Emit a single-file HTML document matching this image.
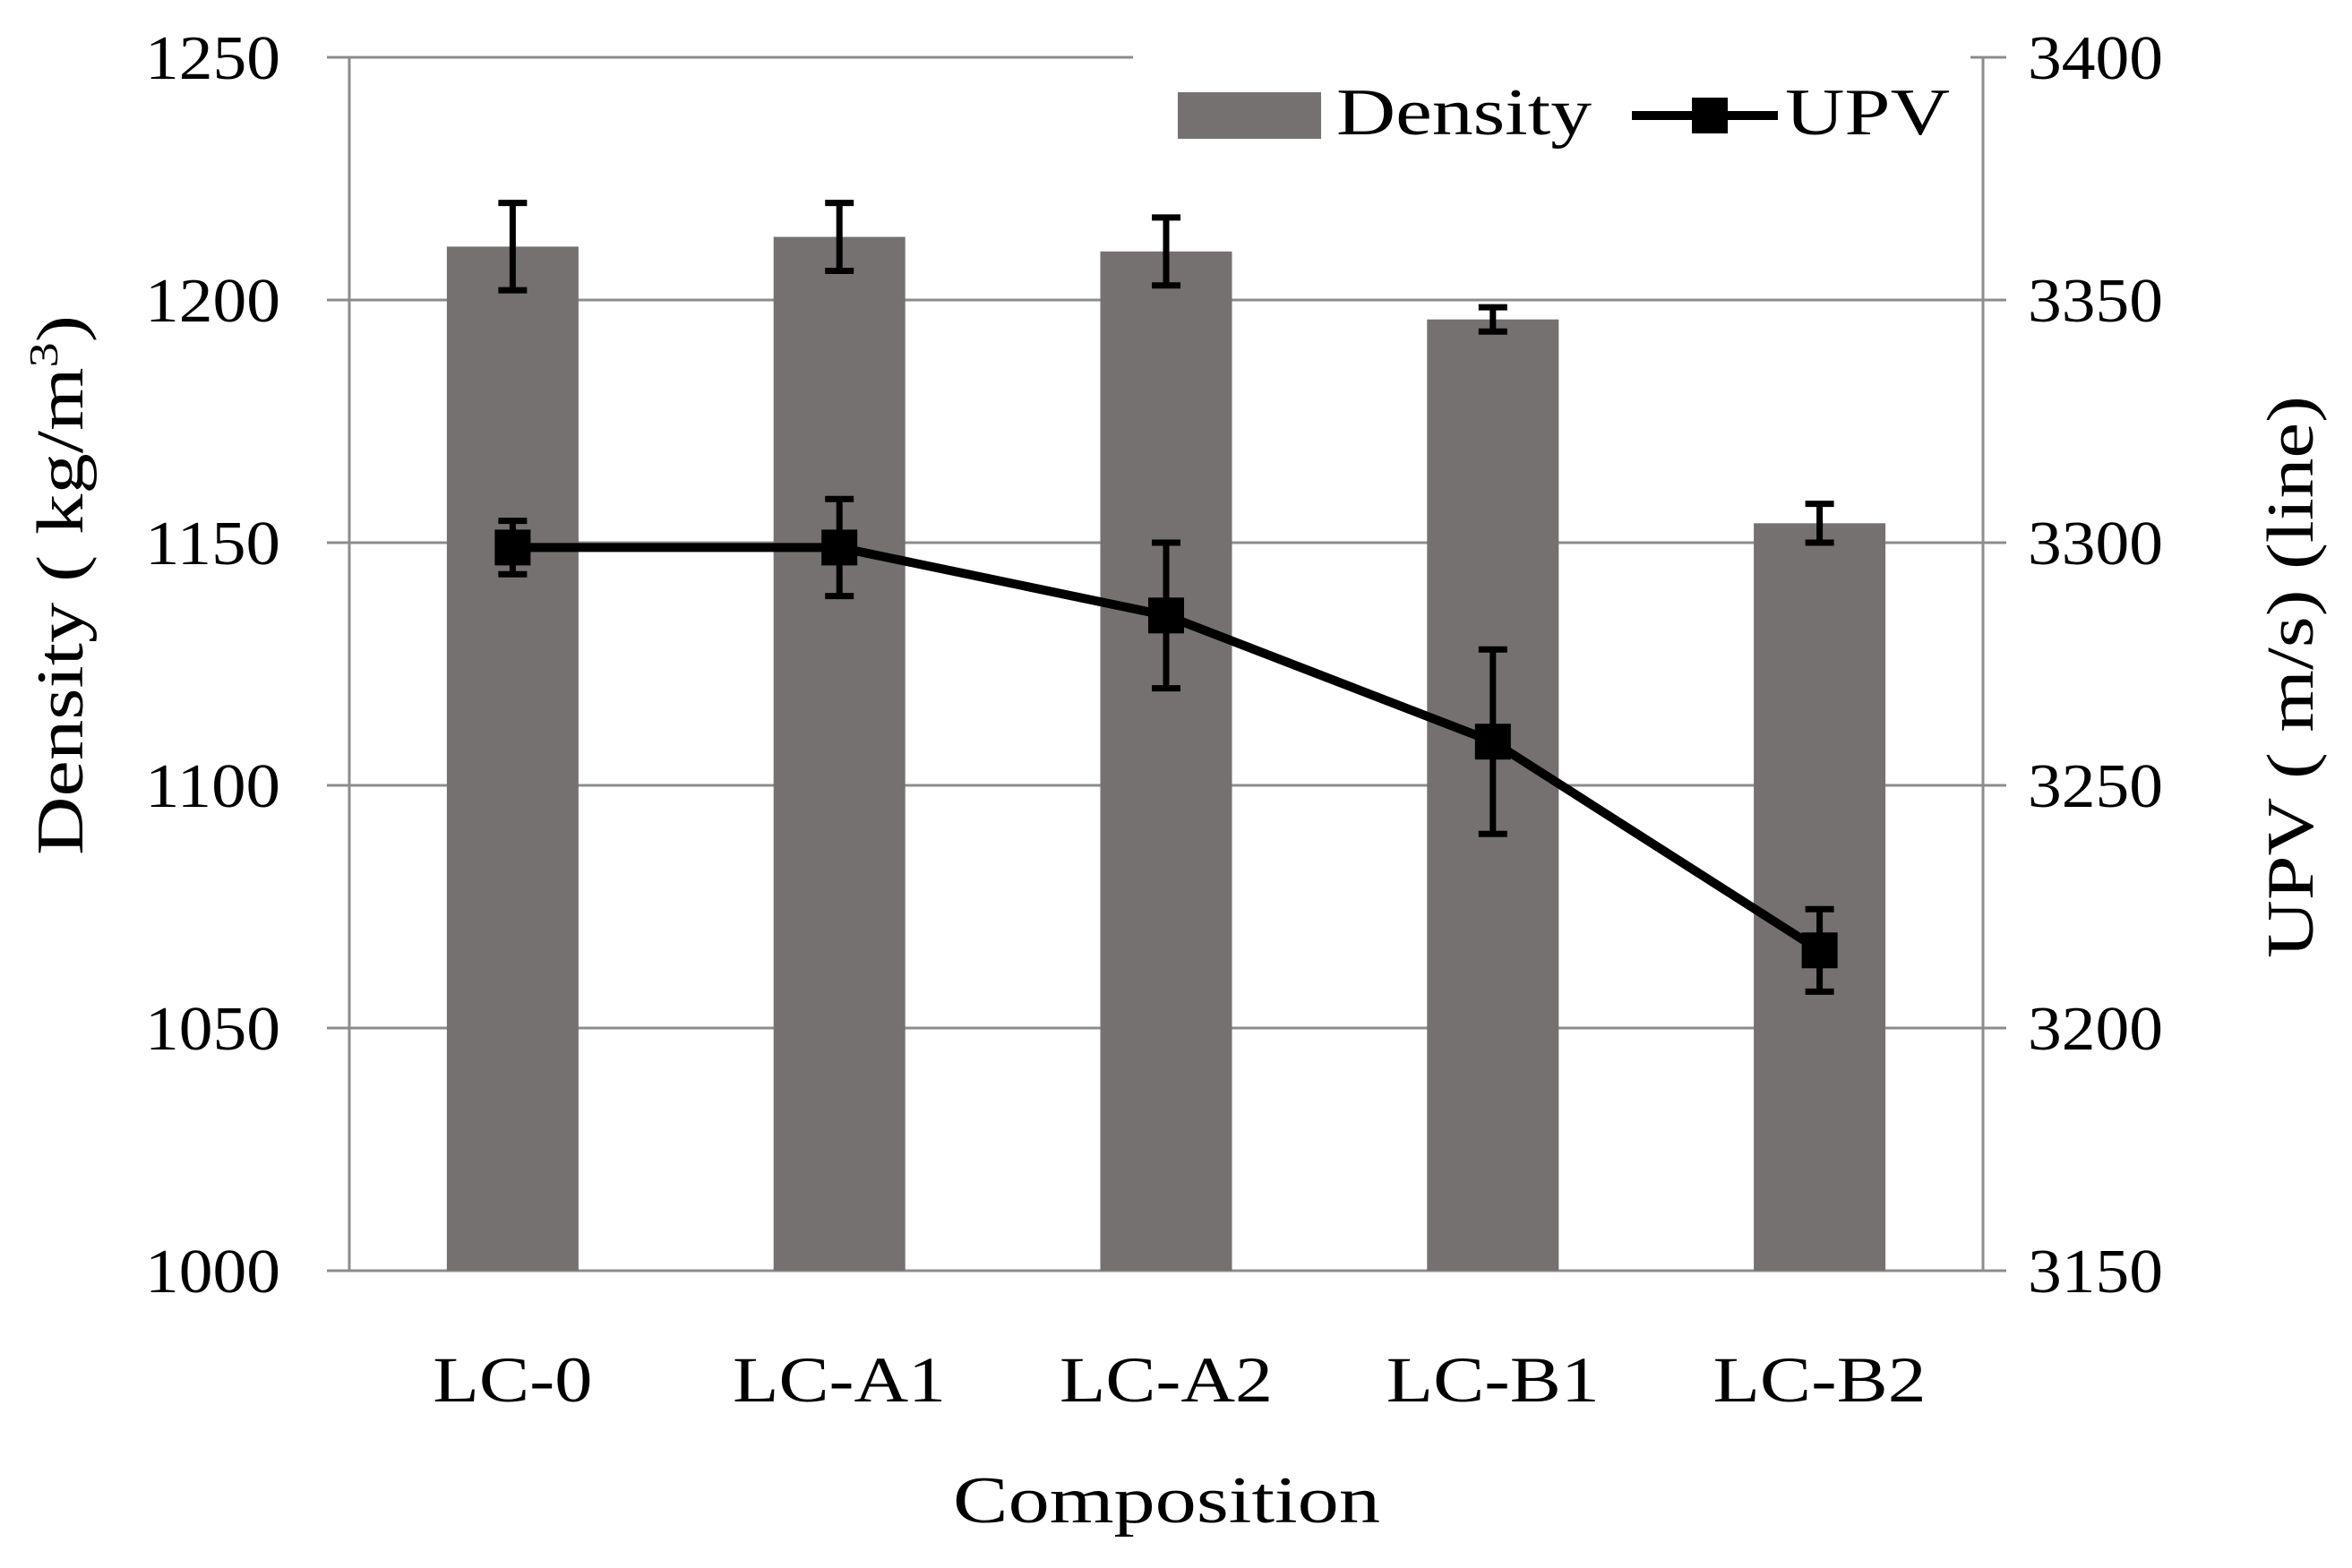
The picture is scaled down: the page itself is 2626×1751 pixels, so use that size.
<!DOCTYPE html>
<html><head><meta charset="utf-8"><style>
html,body{margin:0;padding:0;background:#fff;}
body{position:relative;}
svg{display:block;font-family:"Liberation Serif",serif;}
</style></head><body>
<svg id="chart" width="2626" height="1751" viewBox="0 0 2626 1751" xmlns="http://www.w3.org/2000/svg"></svg>
<script>
const categories = ["LC-0","LC-A1","LC-A2","LC-B1","LC-B2"];
const density = [1211,1213,1210,1196,1154];
const densityErr = [9,7,7,2.5,4];
const upv = [3299,3299,3285,3259,3216];
const upvErr = [5.5,10,15,19,8.5];
const leftTicks = [1000,1050,1100,1150,1200,1250];
const rightTicks = [3150,3200,3250,3300,3350,3400];

const NS="http://www.w3.org/2000/svg";
const svg=document.getElementById('chart');
const L=390,R=2214,T=64,B=1419;
const yL=v=>B-(v-1000)/250*(B-T);
const yR=v=>B-(v-3150)/250*(B-T);
const band=(R-L)/categories.length;
const xC=i=>L+band*(i+0.5);
function mk(tag,attrs,parent){const e=document.createElementNS(NS,tag);for(const k in attrs)e.setAttribute(k,attrs[k]);(parent||svg).appendChild(e);return e;}

const grid=mk('g',{});


leftTicks.forEach(t=>{
  const l=mk('line',{x1:365,x2:2240,y1:yL(t),y2:yL(t),stroke:'#8c8c8c','stroke-width':3},grid);
  
  
});
const ax=mk('g',{});


mk('line',{x1:L,x2:L,y1:T,y2:B,stroke:'#8c8c8c','stroke-width':3},ax);
mk('line',{x1:R,x2:R,y1:T,y2:B,stroke:'#8c8c8c','stroke-width':3},ax);

leftTicks.forEach(t=>{
  const e=mk('text',{x:313,y:yL(t)+24,'text-anchor':'end','font-size':70,fill:'#000',textLength:151,lengthAdjust:'spacingAndGlyphs'});
  e.textContent=t;
  
  
});
rightTicks.forEach(t=>{
  const e=mk('text',{x:2264,y:yR(t)+24,'text-anchor':'start','font-size':70,fill:'#000',textLength:151,lengthAdjust:'spacingAndGlyphs'});
  e.textContent=t;
  
  
});

categories.forEach((c,i)=>{
  const bw=147;
  const b=mk('rect',{x:xC(i)-bw/2,y:yL(density[i]),width:bw,height:B-yL(density[i]),fill:'#767171'});
  
  
});
function errbar(x,y1,y2,name){
  const g=mk('g',{stroke:'#000','stroke-width':7,fill:'none'});
  
  
  mk('line',{x1:x,x2:x,y1:y1,y2:y2},g);
  mk('line',{x1:x-16,x2:x+16,y1:y1,y2:y1},g);
  mk('line',{x1:x-16,x2:x+16,y1:y2,y2:y2},g);
}
categories.forEach((c,i)=>errbar(xC(i),yL(density[i]+densityErr[i]),yL(density[i]-densityErr[i]),'density-error-'+c.toLowerCase()));

const pl=mk('polyline',{points:upv.map((v,i)=>xC(i)+','+yR(v)).join(' '),fill:'none',stroke:'#000','stroke-width':10,'stroke-linejoin':'round'});


categories.forEach((c,i)=>errbar(xC(i),yR(upv[i]+upvErr[i]),yR(upv[i]-upvErr[i]),'upv-error-'+c.toLowerCase()));
categories.forEach((c,i)=>{
  const m=mk('rect',{x:xC(i)-20,y:yR(upv[i])-20,width:40,height:40,fill:'#000'});
  
  
});

categories.forEach((c,i)=>{
  const e=mk('text',{x:xC(i),y:1565,'text-anchor':'middle','font-size':72,fill:'#000',textLength:(c.length===4?178:238),lengthAdjust:'spacingAndGlyphs'});
  e.textContent=c;
  
  
});
</script>
<svg style="position:absolute;left:0;top:0" width="2626" height="1751">
<text x="1064" y="1700" font-size="74" font-family="Liberation Serif,serif" textLength="477" lengthAdjust="spacingAndGlyphs">Composition</text>
<text transform="translate(92,955) rotate(-90)" font-size="74" font-family="Liberation Serif,serif" textLength="603" lengthAdjust="spacingAndGlyphs">Density ( kg/m<tspan font-size="46" dy="-28">3</tspan><tspan dy="28">)</tspan></text>
<text transform="translate(2582,1070) rotate(-90)" font-size="74" font-family="Liberation Serif,serif" textLength="628" lengthAdjust="spacingAndGlyphs">UPV ( m/s) (line)</text>
<g>
<rect x="1265" y="40" width="935" height="130" fill="#fff"/>
<rect x="1315" y="103" width="160" height="52" fill="#767171"/>
<text x="1492" y="150" font-size="74" font-family="Liberation Serif,serif" textLength="285" lengthAdjust="spacingAndGlyphs">Density</text>
<line x1="1822" y1="129" x2="1985" y2="129" stroke="#000" stroke-width="10"/>
<rect x="1889" y="109" width="40" height="40" fill="#000"/>
<text x="1993" y="150" font-size="74" font-family="Liberation Serif,serif" textLength="184" lengthAdjust="spacingAndGlyphs">UPV</text>
</g>
</svg>
</body></html>
